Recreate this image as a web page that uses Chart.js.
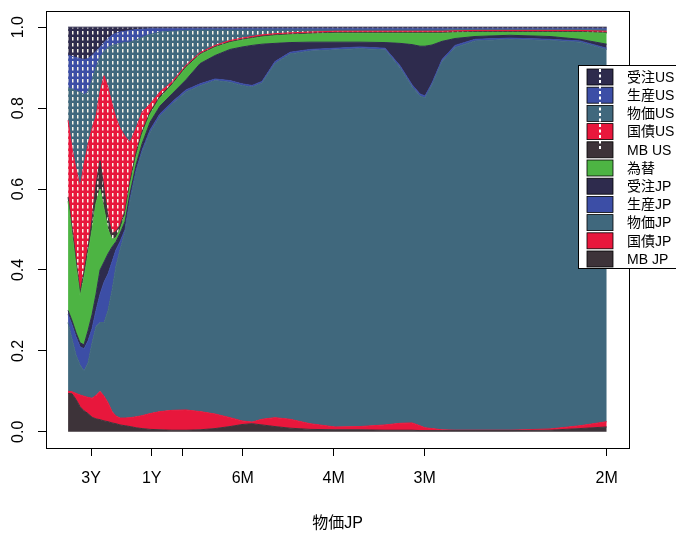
<!DOCTYPE html>
<html>
<head>
<meta charset="utf-8">
<script src="https://cdn.jsdelivr.net/npm/chart.js@4.4.1/dist/chart.umd.min.js"></script>
<style>
  html, body { margin: 0; padding: 0; background: #fff; }
  canvas { display: block; }
</style>
</head>
<body>
<canvas id="decomp" width="676" height="535"></canvas>
<script>
// Frequency of each point (cycles per month)
const freq = [0.0067,0.0103,0.0140,0.0177,0.0213,0.0250,0.0287,0.0323,0.0360,0.0397,
              0.0433,0.0470,0.0506,0.0543,0.0589,0.0635,0.0690,0.0745,0.0818,0.0909,
              0.1019,0.1147,0.1276,0.1413,0.1550,0.1660,0.1752,0.1843,0.1962,0.2100,
              0.2283,0.2512,0.2741,0.2970,0.3107,0.3217,0.3290,0.3336,0.3400,0.3492,
              0.3611,0.3794,0.4114,0.4481,0.4755,0.5000];

// Cumulative shares (top edge of each layer, bottom to top)
const cumMBJP = [.095,.094,.080,.062,.052,.045,.036,.032,.030,.027,
                 .025,.022,.020,.017,.015,.013,.010,.008,.006,.005,
                 .004,.004,.005,.008,.013,.018,.020,.017,.013,.009,
                 .006,.005,.005,.004,.004,.004,.003,.003,.003,.003,
                 .003,.003,.003,.004,.008,.012];
const cumKokusaiJP = [.100,.099,.095,.091,.088,.085,.083,.090,.100,.088,
                      .072,.050,.039,.034,.034,.035,.037,.040,.045,.050,
                      .053,.054,.050,.044,.035,.027,.024,.031,.035,.031,
                      .020,.012,.013,.017,.021,.022,.015,.010,.008,.005,
                      .004,.004,.004,.007,.015,.025];
const cumBukkaJP = [.27,.23,.19,.165,.15,.17,.22,.26,.27,.27,
                    .30,.35,.41,.45,.495,.57,.64,.69,.74,.78,
                    .81,.84,.855,.868,.864,.856,.852,.862,.91,.934,
                    .941,.944,.947,.944,.90,.853,.83,.825,.857,.915,
                    .95,.966,.97,.967,.963,.945];
const cumSeisanJP = [.29,.265,.235,.21,.205,.225,.255,.30,.34,.37,
                     .39,.42,.45,.47,.50,.576,.646,.696,.746,.786,
                     .815,.845,.86,.872,.868,.86,.856,.866,.915,.938,
                     .945,.948,.951,.948,.905,.858,.835,.830,.862,.92,
                     .955,.97,.973,.97,.966,.948];
const cumJuchuJP = [.30,.275,.245,.22,.215,.25,.29,.34,.40,.42,
                    .44,.457,.47,.49,.52,.59,.66,.712,.765,.805,
                    .835,.87,.91,.93,.945,.951,.955,.958,.96,.962,
                    .963,.963,.963,.962,.96,.957,.953,.953,.956,.965,
                    .972,.977,.98,.977,.97,.958];
const cumKawase = [.57,.49,.41,.335,.38,.44,.50,.565,.60,.55,
                   .50,.475,.48,.50,.535,.61,.68,.735,.785,.825,
                   .857,.90,.932,.95,.962,.968,.972,.976,.979,.981,
                   .983,.985,.985,.985,.985,.985,.985,.985,.985,.985,
                   .986,.987,.987,.987,.987,.985];
const cumMBUS = [.58,.505,.425,.345,.395,.455,.525,.61,.67,.60,
                 .53,.49,.495,.51,.545,.62,.69,.742,.79,.83,
                 .86,.903,.934,.952,.964,.970,.974,.978,.981,.983,
                 .985,.987,.987,.987,.987,.987,.987,.987,.987,.987,
                 .988,.989,.989,.989,.989,.987];
const cumKokusaiUS = [.77,.70,.65,.605,.66,.71,.75,.78,.84,.88,
                      .85,.81,.775,.75,.73,.715,.75,.79,.81,.84,
                      .865,.906,.937,.955,.967,.973,.977,.981,.984,.986,
                      .988,.99,.99,.99,.99,.99,.99,.99,.99,.99,
                      .991,.992,.992,.992,.992,.99];
const cumBukkaUS = [.85,.847,.843,.84,.833,.84,.87,.90,.926,.94,
                    .95,.955,.957,.96,.962,.963,.968,.975,.982,.988,
                    .99,.992,.993,.993,.993,.993,.993,.993,.993,.993,
                    .993,.993,.993,.993,.993,.993,.993,.993,.993,.993,
                    .994,.994,.994,.994,.994,.993];
const cumSeisanUS = [.93,.928,.925,.922,.92,.922,.93,.94,.95,.962,
                     .972,.98,.985,.988,.99,.992,.994,.995,.996,.996,
                     .996,.996,.996,.996,.996,.996,.996,.996,.996,.996,
                     .996,.996,.996,.996,.996,.996,.996,.996,.996,.996,
                     .996,.996,.996,.996,.996,.996];
// the last layer (受注US) always reaches the total
const cumTotal = [1, 1];

const seriesNames = ['MB JP', '国債JP', '物価JP', '生産JP', '受注JP', '為替',
                     'MB US', '国債US', '物価US', '生産US', '受注US'];
const xTickVals = [0.0278, 0.0833, 0.1111, 0.1667, 0.25, 0.3333, 0.5];
const xTickLabels = ['3Y', '1Y', '', '6M', '4M', '3M', '2M'];
const yTickVals = [0, 0.2, 0.4, 0.6, 0.8, 1.0];
const yTickLabels = ['0.0', '0.2', '0.4', '0.6', '0.8', '1.0'];

// colours per variable, JP plain and US with white dashes
const baseColors = {
    'MB': '#3d3339', '国債': '#e8173c', '物価': '#40687d',
    '生産': '#3c4ea6', '受注': '#2e2b4d', '為替': '#4db443'
};

const FONT = '"Liberation Sans", "Noto Sans CJK JP", Arial, sans-serif';
Chart.defaults.font.family = FONT;
Chart.defaults.color = '#000';

const canvas = document.getElementById('decomp');
const ctx = canvas.getContext('2d');

function colorOf(name) {
    const key = Object.keys(baseColors).find(k => name.startsWith(k));
    return baseColors[key];
}

// small tile: base colour with a short white vertical dash
function dottedPattern(color) {
    const tile = document.createElement('canvas');
    tile.width = 5;
    tile.height = 6;
    const g = tile.getContext('2d');
    g.fillStyle = color;
    g.fillRect(0, 0, 5, 6);
    g.fillStyle = '#f7f4e8';
    g.fillRect(2, 1, 1.5, 3.5);
    return ctx.createPattern(tile, 'repeat');
}

const cumLayers = [cumMBJP, cumKokusaiJP, cumBukkaJP, cumSeisanJP, cumJuchuJP, cumKawase,
                   cumMBUS, cumKokusaiUS, cumBukkaUS, cumSeisanUS];

const datasets = cumLayers.map((vals, i) => {
    const name = seriesNames[i];
    const color = colorOf(name);
    const isUS = name.endsWith('US');
    return {
        label: name,
        data: freq.map((f, j) => ({ x: f, y: vals[j] })),
        borderColor: color,
        borderWidth: 1,
        backgroundColor: isUS ? dottedPattern(color) : color,
        fill: i === 0 ? 'origin' : '-1',
        pointRadius: 0,
        tension: 0
    };
});
datasets.push({
    label: seriesNames[10],
    data: [{ x: freq[0], y: cumTotal[0] }, { x: freq[freq.length - 1], y: cumTotal[1] }],
    borderColor: colorOf(seriesNames[10]),
    borderWidth: 1,
    backgroundColor: dottedPattern(colorOf(seriesNames[10])),
    fill: '-1',
    pointRadius: 0,
    tension: 0
});

// Box around the plot region
const framePlugin = {
    id: 'frame',
    afterDraw(chart) {
        const a = chart.chartArea;
        const c = chart.ctx;
        c.save();
        c.strokeStyle = '#000';
        c.lineWidth = 1;
        c.strokeRect(Math.round(a.left) + 0.5, Math.round(a.top) + 0.5,
                     Math.round(a.right - a.left), Math.round(a.bottom - a.top));
        c.restore();
    }
};

// Rotated y tick labels (parallel to the axis)
const yLabelPlugin = {
    id: 'yLabels',
    afterDraw(chart) {
        const c = chart.ctx;
        const ys = chart.scales.y;
        c.save();
        c.font = '16px ' + FONT;
        c.fillStyle = '#000';
        c.textAlign = 'center';
        c.textBaseline = 'middle';
        yTickVals.forEach((v, i) => {
            c.save();
            c.translate(19, ys.getPixelForValue(v));
            c.rotate(-Math.PI / 2);
            c.fillText(yTickLabels[i], 0, 0);
            c.restore();
        });
        c.restore();
    }
};

// Legend box drawn over the right edge of the plot
const legendPlugin = {
    id: 'boxLegend',
    afterDraw(chart) {
        const c = chart.ctx;
        const boxX = 578, boxY = 65, boxH = 203, rowH = 18.2;
        const swX = 587, swW = 26, swH = 16;
        c.save();
        c.fillStyle = '#fff';
        c.fillRect(boxX, boxY, 120, boxH);
        c.strokeStyle = '#000';
        c.lineWidth = 1;
        c.strokeRect(boxX + 0.5, boxY + 0.5, 120, boxH);
        const order = seriesNames.slice().reverse();
        c.font = '14px ' + FONT;
        c.textBaseline = 'middle';
        c.textAlign = 'left';
        order.forEach((name, i) => {
            const cy = boxY + 12 + i * rowH;
            c.fillStyle = colorOf(name);
            c.fillRect(swX, cy - swH / 2, swW, swH);
            c.strokeStyle = '#000';
            c.lineWidth = 0.8;
            c.strokeRect(swX, cy - swH / 2, swW, swH);
            c.fillStyle = '#000';
            c.fillText(name, 627, cy + 1);
        });
        // white dashed line through the US swatches
        const lastUS = order.indexOf('MB US');
        c.strokeStyle = '#fff';
        c.lineWidth = 2;
        c.setLineDash([3, 2.5]);
        c.beginPath();
        c.moveTo(swX + swW / 2, boxY + 12 - swH / 2);
        c.lineTo(swX + swW / 2, boxY + 12 + lastUS * rowH);
        c.stroke();
        c.restore();
    }
};

new Chart(ctx, {
    type: 'line',
    data: { datasets: datasets },
    options: {
        responsive: false,
        animation: false,
        layout: { padding: { left: 0, top: 11, right: 47, bottom: 0 } },
        plugins: {
            legend: { display: false },
            tooltip: { enabled: false }
        },
        scales: {
            x: {
                type: 'linear',
                min: -0.0135,
                max: 0.5204,
                afterBuildTicks: s => { s.ticks = xTickVals.map(v => ({ value: v })); },
                afterFit: s => { s.height = 87; },
                ticks: {
                    autoSkip: false,
                    maxRotation: 0,
                    padding: 13,
                    font: { size: 16 },
                    callback: (v, i) => xTickLabels[i]
                },
                grid: { drawOnChartArea: false, color: '#000', tickLength: 8 },
                border: { display: false },
                title: {
                    display: true,
                    text: '物価JP',
                    font: { size: 16 },
                    padding: { top: 0, bottom: 2 }
                }
            },
            y: {
                type: 'linear',
                min: -0.04,
                max: 1.04,
                afterBuildTicks: s => { s.ticks = yTickVals.map(v => ({ value: v })); },
                afterFit: s => { s.width = 46; },
                ticks: { display: false },
                grid: { drawOnChartArea: false, color: '#000', tickLength: 8 },
                border: { display: false }
            }
        }
    },
    plugins: [framePlugin, yLabelPlugin, legendPlugin]
});
</script>
</body>
</html>
